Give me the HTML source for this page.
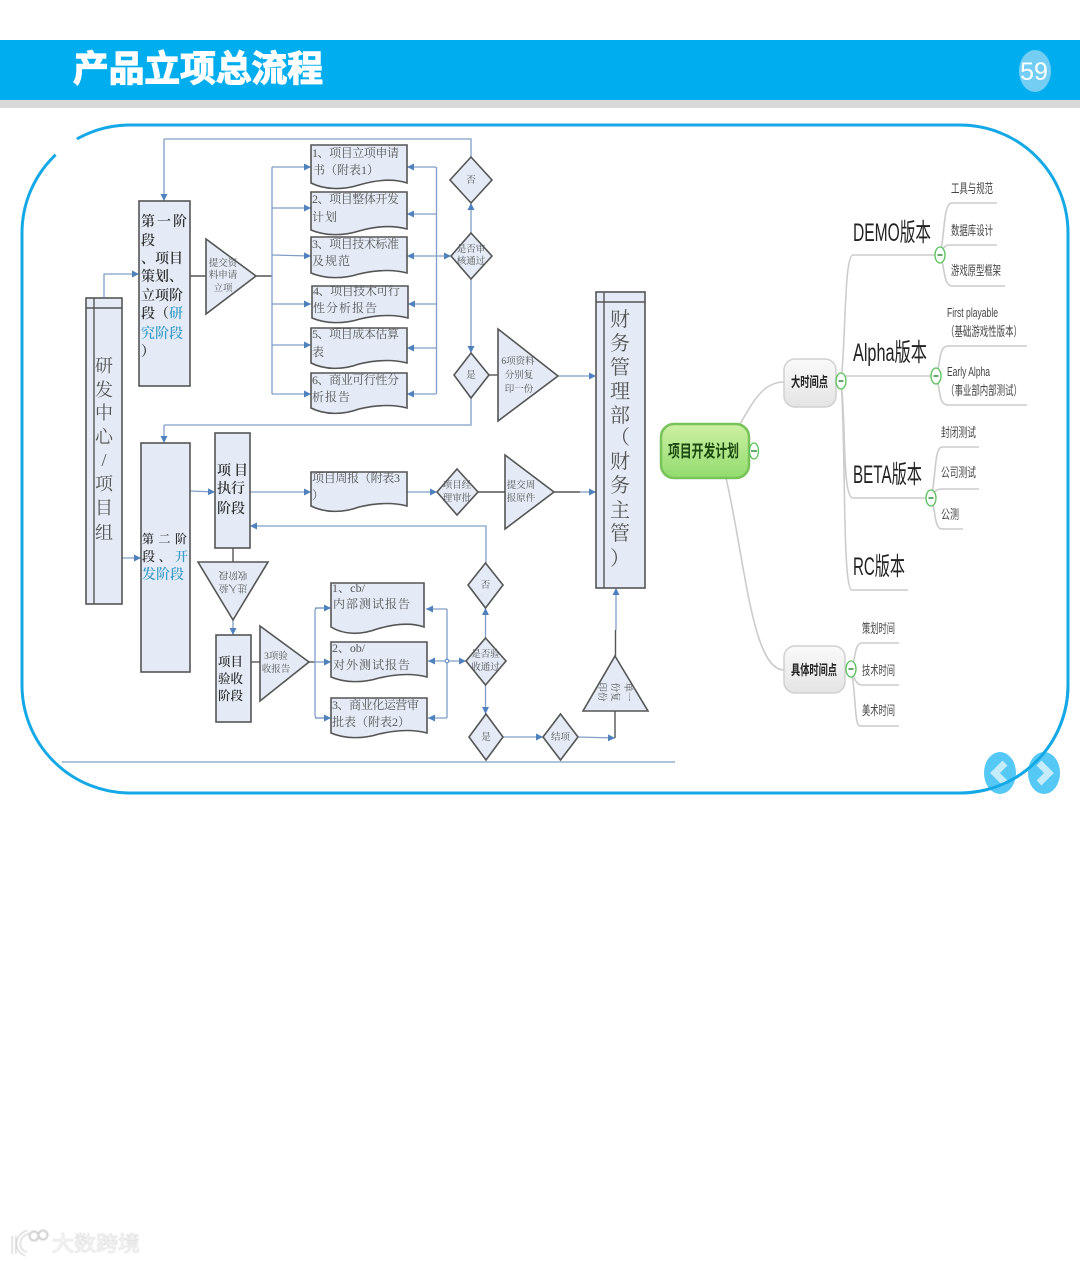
<!DOCTYPE html>
<html lang="zh"><head><meta charset="utf-8"><title>产品立项总流程</title>
<style>
html,body{margin:0;padding:0;background:#fff}
svg{display:block}
.s{fill:#e4ebf6;stroke:#555;stroke-width:1.6}
.w{fill:none;stroke:#ccc;stroke-width:1.6}
.b{fill:none;stroke:#7f9fc8;stroke-width:1.3}
.dk{fill:none;stroke:#555;stroke-width:1.4}
.ar{fill:none;stroke:#7f9fc8;stroke-width:1.3;marker-end:url(#a)}
text{font-family:"Liberation Serif","Noto Serif CJK SC",serif}
.d{font-size:12px;fill:#555}
.t{font-size:14px;fill:#333;font-weight:600}
.u{font-size:9.5px;fill:#555;text-anchor:middle}
.v{font-size:18px;fill:#555;text-anchor:middle}
.m{font-family:"Liberation Sans","Noto Sans CJK SC",sans-serif;fill:#333}
.m1{font-size:25px;fill:#222}
.m2{font-size:13px;fill:#444}
</style></head><body>
<svg width="1080" height="1263" viewBox="0 0 1080 1263" xmlns="http://www.w3.org/2000/svg">
<defs>
<marker id="a" markerUnits="userSpaceOnUse" markerWidth="8" markerHeight="8" refX="7" refY="3.5" orient="auto"><path d="M0 0L7 3.5L0 7Z" fill="#4f81bd"/></marker>
<linearGradient id="g" x1="0" y1="0" x2="0" y2="1"><stop offset="0" stop-color="#cdf0a4"/><stop offset="1" stop-color="#92dc6e"/></linearGradient>
<linearGradient id="h" x1="0" y1="0" x2="0" y2="1"><stop offset="0" stop-color="#fafafa"/><stop offset="1" stop-color="#e4e4e4"/></linearGradient>
</defs>
<rect width="1080" height="1263" fill="#fff"/>
<rect y="40" width="1080" height="60" fill="#00aeef"/>
<rect y="100" width="1080" height="8" fill="#d9d9d9"/>
<text x="73" y="81" textLength="250" lengthAdjust="spacingAndGlyphs" style="font-family:'Liberation Sans','Noto Sans CJK SC',sans-serif;font-size:36px;font-weight:700;fill:#fff;stroke:#fff;stroke-width:1.2">产品立项总流程</text>
<ellipse cx="1035" cy="71" rx="16" ry="21" fill="#74cef3"/>
<text x="1034" y="80" text-anchor="middle" style="font-family:'Liberation Sans',sans-serif;font-size:25px;fill:#fff">59</text>

<rect x="22" y="125" width="1046" height="668" rx="108" ry="108" fill="#fff" stroke="#14a9e6" stroke-width="3"/>
<path d="M55.500 154.500L76.500 138.500" fill="none" stroke="#fff" stroke-width="9"/>

<ellipse cx="1000" cy="773" rx="16" ry="21" fill="#55c8f5"/>
<ellipse cx="1044" cy="773" rx="16" ry="21" fill="#55c8f5"/>
<path d="M1005 763L995 773L1005 783" fill="none" stroke="#c4ecfb" stroke-width="7"/>
<path d="M1039 763L1049 773L1039 783" fill="none" stroke="#c4ecfb" stroke-width="7"/>
<path d="M960 793A108 108 0 0 0 1068 685" fill="none" stroke="#14a9e6" stroke-width="3"/>

<g style="filter:blur(.35px)">
<path class="b" d="M62 762H675" stroke-width="1.5"/>
<!-- top connectors -->
<path class="b" d="M471 157V139H164"/><path class="ar" d="M164 139V201"/>
<path class="ar" d="M104 298V274H139"/>
<path class="ar" d="M471 233V203"/><path class="ar" d="M471 279V353"/>
<path class="b" d="M471 398V425H164"/><path class="ar" d="M164 425V443"/>
<path class="dk" d="M190 276H206M256 276H272"/>
<path class="b" d="M272 167V394"/>
<path class="ar" d="M272 167H311"/><path class="ar" d="M272 208H311"/><path class="ar" d="M272 255L311 256"/><path class="ar" d="M272 304H311"/><path class="ar" d="M272 345H311"/><path class="ar" d="M272 394H311"/>
<path class="b" d="M436.500 167V394"/>
<path class="ar" d="M436 167H407"/><path class="ar" d="M436 214H407"/><path class="ar" d="M436 304L408 304"/><path class="ar" d="M436 348H407"/><path class="ar" d="M436 394H407"/>
<path class="ar" d="M425 256H407"/><path class="ar" d="M425 256H451"/>
<path class="dk" d="M489 375H498"/>
<path class="ar" d="M558 376H596"/>
<path class="ar" d="M122 558H141"/>
<path class="ar" d="M190 491L215 492"/>
<path class="ar" d="M250 492H311"/><path class="ar" d="M407 492H437"/>
<path class="dk" d="M478 492H505"/>
<path class="dk" d="M554 492H580"/><path class="ar" d="M580 492H596"/>
<path class="b" d="M486 563V526H270"/><path class="ar" d="M270 526H250"/>
<path class="dk" d="M233 548V562"/><path class="ar" d="M233 620V635"/>
<path class="dk" d="M251 662H260"/>
<path class="dk" d="M309 662H315"/>
<path class="b" d="M330 608H318Q315 608 315 611V715Q315 718 318 718H330"/>
<path class="ar" d="M315 608H331"/><path class="ar" d="M315 662H331"/><path class="ar" d="M315 718H331"/>
<path class="b" d="M447 609V718"/>
<path class="ar" d="M447 609H426"/><path class="ar" d="M447 661H428"/><path class="ar" d="M447 718H428"/>
<path class="ar" d="M447 661H466"/><circle cx="447" cy="661" r="1.800" fill="#fff" stroke="#4f81bd"/>
<path class="ar" d="M485.500 638V608"/><path class="ar" d="M485.500 685V714"/>
<path class="ar" d="M503 737H543"/><path class="ar" d="M578 737L615 738"/>
<path class="dk" d="M615 738V711M615.500 656V630"/><path class="ar" d="M616 630V588"/>

<!-- boxes -->
<rect class="s" x="86" y="298" width="36" height="306"/><path class="dk" d="M86 308H122M94 298V604"/>
<rect class="s" x="139" y="201" width="51" height="185"/>
<rect class="s" x="141" y="443" width="49" height="229"/>
<rect class="s" x="215" y="433" width="35" height="115"/>
<rect class="s" x="216" y="635" width="35" height="87"/>
<rect class="s" x="596" y="292" width="49" height="296"/><path class="dk" d="M596 302H645M604 292V588"/>

<!-- triangles -->
<path class="s" d="M206 239L256 276L206 314Z"/>
<path class="s" d="M498 329L558 376L498 421Z"/>
<path class="s" d="M505 455L554 492L505 529Z"/>
<path class="s" d="M198 562H268L233 620Z"/>
<path class="s" d="M260 626L309 662L260 701Z"/>
<path class="s" d="M615 656L648 711H583Z"/>

<!-- diamonds -->
<path class="s" d="M471 157L492 180L471 203L450 180Z"/>
<path class="s" d="M471 233L492 256L471 279L451 256Z"/>
<path class="s" d="M471 353L489 375L471 398L454 375Z"/>
<path class="s" d="M457 469L478 492L457 515L437 492Z"/>
<path class="s" d="M485.500 563L503 585L485.500 608L468 585Z"/>
<path class="s" d="M485.500 638L506 661L485.500 685L466 661Z"/>
<path class="s" d="M486 714L503 737L486 760L469 737Z"/>
<path class="s" d="M560.500 714L578 737L560.500 760L543 737Z"/>

<!-- documents -->
<path class="s" d="M311 145H407V183C392 178 376 180 359 185C343 190 325 190 311 183Z"/>
<path class="s" d="M311 192H407V229C392 225 376 226 359 231C343 236 325 236 311 230Z"/>
<path class="s" d="M311 237H407V273C392 269 376 270 359 274C343 279 325 279 311 273Z"/>
<path class="s" d="M312 286H408V318C393 314 377 315 360 319C344 324 326 324 312 318Z"/>
<path class="s" d="M311 328H407V363C392 359 376 360 359 364C343 370 325 370 311 363Z"/>
<path class="s" d="M311 373H407V408C392 404 376 405 359 409C343 415 325 415 311 408Z"/>
<path class="s" d="M311 472H407V506C392 502 376 503 359 507C343 513 325 513 311 506Z"/>
<path class="s" d="M331 583H424V627C410 622 394 624 377 629C361 635 344 635 331 627Z"/>
<path class="s" d="M331 642H427V677C412 673 396 674 379 678C363 683 345 683 331 677Z"/>
<path class="s" d="M331 698H427V733C412 729 396 730 379 734C363 739 345 739 331 733Z"/>

<!-- doc text -->
<text class="d" x="312" y="157" textLength="87">1、项目立项申请</text><text class="d" x="313" y="174">书（附表1）</text>
<text class="d" x="312" y="203" textLength="87">2、项目整体开发</text><text class="d" x="312" y="221" letter-spacing="1">计划</text>
<text class="d" x="312" y="248" textLength="87">3、项目技术标准</text><text class="d" x="312" y="265" letter-spacing="1">及规范</text>
<text class="d" x="313" y="295" textLength="87">4、项目技术可行</text><text class="d" x="313" y="312" letter-spacing="1">性分析报告</text>
<text class="d" x="312" y="338" textLength="87">5、项目成本估算</text><text class="d" x="312" y="356">表</text>
<text class="d" x="312" y="384" textLength="87">6、商业可行性分</text><text class="d" x="312" y="401" letter-spacing="1">析报告</text>
<text class="d" x="312" y="482" textLength="88">项目周报（附表3</text><text class="d" x="312" y="499">）</text>
<text class="d" x="332" y="592" textLength="33">1、cb/</text><text class="d" x="333" y="608" letter-spacing="1">内部测试报告</text>
<text class="d" x="332" y="652" textLength="33">2、ob/</text><text class="d" x="333" y="669" letter-spacing="1">对外测试报告</text>
<text class="d" x="332" y="709" textLength="87">3、商业化运营审</text><text class="d" x="332" y="726">批表（附表2）</text>

<!-- box text -->
<text class="t" x="141" y="226" textLength="46">第 一 阶</text>
<text class="t" x="141" y="245">段</text>
<text class="t" x="141" y="263">、项目</text>
<text class="t" x="141" y="281">策划、</text>
<text class="t" x="141" y="300">立项阶</text>
<text class="t" x="141" y="318">段（<tspan fill="#3c9dc8">研</tspan></text>
<text class="t" x="141" y="338" style="fill:#3c9dc8">究阶段</text>
<text class="t" x="141" y="356">）</text>
<text class="t" x="142" y="543" textLength="45" style="font-size:12px">第 二 阶</text>
<text class="t" x="142" y="561" textLength="46" style="font-size:13px">段 、 <tspan fill="#3c9dc8">开</tspan></text>
<text class="t" x="142" y="579" style="fill:#3c9dc8">发阶段</text>
<text class="t" x="217" y="475" textLength="31">项 目</text>
<text class="t" x="217" y="493">执行</text>
<text class="t" x="217" y="513">阶段</text>
<text class="t" x="218" y="666" style="font-size:12.500px">项目</text>
<text class="t" x="218" y="683" style="font-size:12.500px">验收</text>
<text class="t" x="218" y="700" style="font-size:12.500px">阶段</text>

<g class="vv">
<text class="v" x="104" y="372">研</text><text class="v" x="104" y="396">发</text><text class="v" x="104" y="419">中</text><text class="v" x="104" y="443">心</text><text class="v" x="104" y="466">/</text><text class="v" x="104" y="490">项</text><text class="v" x="104" y="514">目</text><text class="v" x="104" y="539">组</text>
<text class="v" x="620" y="326" style="font-size:20px">财</text><text class="v" x="620" y="350" style="font-size:20px">务</text><text class="v" x="620" y="374" style="font-size:20px">管</text><text class="v" x="620" y="398" style="font-size:20px">理</text><text class="v" x="620" y="422" style="font-size:20px">部</text><text class="v" x="620" y="444" style="font-size:20px">（</text><text class="v" x="620" y="468" style="font-size:20px">财</text><text class="v" x="620" y="492" style="font-size:20px">务</text><text class="v" x="620" y="517" style="font-size:20px">主</text><text class="v" x="620" y="540" style="font-size:20px">管</text><text class="v" x="620" y="565" style="font-size:20px">）</text>
</g>

<!-- small labels -->
<text class="u" x="223" y="266">提交资</text><text class="u" x="223" y="278">料申请</text><text class="u" x="223" y="291">立项</text>
<text class="u" x="471" y="183">否</text>
<text class="u" x="471" y="252">是否审</text><text class="u" x="471" y="264">核通过</text>
<text class="u" x="471" y="378">是</text>
<text class="u" x="518" y="364">6项资料</text><text class="u" x="519" y="378">分别复</text><text class="u" x="519" y="392">印一份</text>
<text class="u" x="457" y="488">项目经</text><text class="u" x="457" y="501">理审批</text>
<text class="u" x="521" y="488">提交周</text><text class="u" x="521" y="501">报原件</text>
<text class="u" x="276" y="659">3项验</text><text class="u" x="276" y="672">收报告</text>
<text class="u" x="485.500" y="588">否</text>
<text class="u" x="485.500" y="657">是否验</text><text class="u" x="485.500" y="670">收通过</text>
<text class="u" x="486" y="740">是</text><text class="u" x="560.500" y="740">结项</text>
<g transform="rotate(180 233 583)"><text class="u" x="233" y="581">进入验</text><text class="u" x="233" y="594">收阶段</text></g>
<g transform="rotate(90 615 692)"><text class="u" x="615" y="682">单一</text><text class="u" x="615" y="695">份复</text><text class="u" x="615" y="708">印份</text></g>

<!-- mind map -->
<path class="w" d="M740 424C752 404 762 382 784 382"/>
<path class="w" d="M726 478C745 560 752 670 784 670"/>
<path class="w" d="M841 381C846 340 844 255 853 255H935"/>
<path class="w" d="M841 376H932"/>
<path class="w" d="M841 381C846 420 842 498 853 498H926"/>
<path class="w" d="M841 381C846 440 842 590 852 590H908"/>
<path class="w" d="M940 255C945 235 943 203 952 203H997"/>
<path class="w" d="M940 255C943 250 943 245 950 245H997"/>
<path class="w" d="M940 255C945 265 943 286 952 286H1005"/>
<path class="w" d="M936 376C941 365 938 346 948 346H1027"/>
<path class="w" d="M936 376C941 390 938 405 948 405H1027"/>
<path class="w" d="M931 498C936 480 934 447 942 447H979"/>
<path class="w" d="M931 498C934 492 936 489 942 489H979"/>
<path class="w" d="M931 498C936 510 934 529 942 529H963"/>
<path class="w" d="M851 669C856 660 854 643 862 643H899"/>
<path class="w" d="M851 669C854 678 856 685 862 685H899"/>
<path class="w" d="M851 669C856 690 854 726 860 726H899"/>

<rect x="661" y="424" width="88" height="54" rx="13" fill="url(#g)" stroke="#79c45a" stroke-width="2.5"/>
<text class="m" x="668" y="457" textLength="71" lengthAdjust="spacingAndGlyphs" style="font-size:17px;font-weight:700;fill:#1c4a10">项目开发计划</text>
<rect x="784" y="359" width="52" height="48" rx="11" fill="url(#h)" stroke="#d0d0d0" stroke-width="1.500"/>
<text class="m" x="791" y="387" textLength="37" lengthAdjust="spacingAndGlyphs" style="font-size:14px;font-weight:600;fill:#222">大时间点</text>
<rect x="784" y="646" width="61" height="47" rx="11" fill="url(#h)" stroke="#d0d0d0" stroke-width="1.500"/>
<text class="m" x="791" y="675" textLength="46" lengthAdjust="spacingAndGlyphs" style="font-size:14px;font-weight:600;fill:#222">具体时间点</text>

<text class="m m1" x="853" y="241" textLength="78" lengthAdjust="spacingAndGlyphs">DEMO版本</text>
<text class="m m1" x="853" y="361" textLength="74" lengthAdjust="spacingAndGlyphs">Alpha版本</text>
<text class="m m1" x="853" y="483" textLength="69" lengthAdjust="spacingAndGlyphs">BETA版本</text>
<text class="m m1" x="853" y="575" textLength="52" lengthAdjust="spacingAndGlyphs">RC版本</text>

<text class="m m2" x="951" y="193" textLength="42" lengthAdjust="spacingAndGlyphs">工具与规范</text>
<text class="m m2" x="951" y="235" textLength="42" lengthAdjust="spacingAndGlyphs">数据库设计</text>
<text class="m m2" x="951" y="275" textLength="50" lengthAdjust="spacingAndGlyphs">游戏原型框架</text>
<text class="m m2" x="947" y="317" textLength="51" lengthAdjust="spacingAndGlyphs">First playable</text>
<text class="m m2" x="946" y="336" textLength="76" lengthAdjust="spacingAndGlyphs">（基础游戏性版本）</text>
<text class="m m2" x="947" y="376" textLength="43" lengthAdjust="spacingAndGlyphs">Early Alpha</text>
<text class="m m2" x="946" y="395" textLength="76" lengthAdjust="spacingAndGlyphs">（事业部内部测试）</text>
<text class="m m2" x="941" y="437" textLength="35" lengthAdjust="spacingAndGlyphs">封闭测试</text>
<text class="m m2" x="941" y="477" textLength="35" lengthAdjust="spacingAndGlyphs">公司测试</text>
<text class="m m2" x="941" y="519" textLength="18" lengthAdjust="spacingAndGlyphs">公测</text>
<text class="m m2" x="862" y="633" textLength="33" lengthAdjust="spacingAndGlyphs">策划时间</text>
<text class="m m2" x="862" y="675" textLength="33" lengthAdjust="spacingAndGlyphs">技术时间</text>
<text class="m m2" x="862" y="715" textLength="33" lengthAdjust="spacingAndGlyphs">美术时间</text>

<g fill="#fff" stroke="#5cc25c" stroke-width="1.300">
<ellipse cx="754" cy="451" rx="4.500" ry="8"/>
<ellipse cx="841" cy="381" rx="5" ry="8"/>
<ellipse cx="940" cy="255" rx="5" ry="8"/>
<ellipse cx="936" cy="376" rx="5" ry="8"/>
<ellipse cx="931" cy="498" rx="5" ry="8"/>
<ellipse cx="851" cy="669" rx="5" ry="8"/>
</g>
<path d="M751 451H757M838.500 381H843.500M937.500 255H942.500M933.500 376H938.500M928.500 498H933.500M848.500 669H853.500" stroke="#2f8f3a" stroke-width="1.500" fill="none"/>
</g>

<!-- watermark -->
<g style="filter:blur(.4px)">
<path d="M14 1236V1254M28 1232C16 1236 15 1250 26 1254" fill="none" stroke="#d4d4d4" stroke-width="5"/>
<path d="M14 1236V1254M28 1232C16 1236 15 1250 26 1254" fill="none" stroke="#fff" stroke-width="2.500"/>
<circle cx="34" cy="1236" r="4.500" fill="none" stroke="#cfcfcf" stroke-width="2"/>
<circle cx="43" cy="1235" r="4.500" fill="none" stroke="#cfcfcf" stroke-width="2"/>
<text x="52" y="1251" textLength="88" lengthAdjust="spacingAndGlyphs" style="font-family:'Liberation Sans','Noto Sans CJK SC',sans-serif;font-size:21px;font-weight:400;fill:#fff;stroke:#cfcfcf;stroke-width:.5">大数跨境</text>
</g>
</svg>
</body></html>
